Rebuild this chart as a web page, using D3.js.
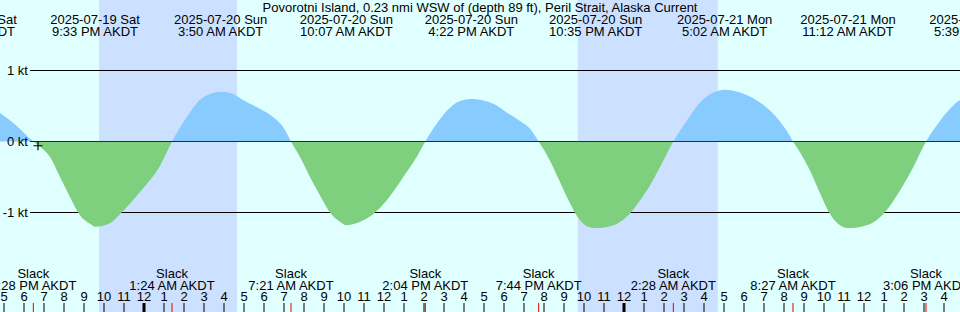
<!DOCTYPE html>
<html><head><meta charset="utf-8">
<script src="https://cdn.jsdelivr.net/npm/d3@7"></script>
<style>html,body{margin:0;padding:0;background:#e0ffff;overflow:hidden}svg{display:block}text{font-family:"Liberation Sans",Arial,sans-serif;font-size:13px;fill:#000}</style>
</head><body><svg id="c" width="960" height="312"></svg>
<script>
const title = "Povorotni Island, 0.23 nmi WSW of (depth 89 ft), Peril Strait, Alaska Current";
const viewStart = "2025-07-19T16:48", viewEnd = "2025-07-21T16:48";
const times = [
 "2025-07-19T15:24","2025-07-19T16:48","2025-07-19T17:38","2025-07-19T18:28","2025-07-19T18:48",
 "2025-07-19T19:18","2025-07-19T19:48","2025-07-19T20:18","2025-07-19T20:48","2025-07-19T21:18",
 "2025-07-19T21:33","2025-07-19T22:18","2025-07-19T22:53","2025-07-19T23:48","2025-07-20T00:48",
 "2025-07-20T01:24","2025-07-20T02:08","2025-07-20T02:46","2025-07-20T03:18","2025-07-20T03:50",
 "2025-07-20T04:28","2025-07-20T04:58","2025-07-20T05:48","2025-07-20T06:28","2025-07-20T06:58",
 "2025-07-20T07:21","2025-07-20T07:48","2025-07-20T08:18","2025-07-20T08:48","2025-07-20T09:18",
 "2025-07-20T09:48","2025-07-20T10:07","2025-07-20T10:58","2025-07-20T11:28","2025-07-20T12:08",
 "2025-07-20T12:58","2025-07-20T13:38","2025-07-20T14:04","2025-07-20T14:38","2025-07-20T15:08",
 "2025-07-20T15:48","2025-07-20T16:22","2025-07-20T17:28","2025-07-20T18:08","2025-07-20T18:48",
 "2025-07-20T19:18","2025-07-20T19:44","2025-07-20T20:18","2025-07-20T20:48","2025-07-20T21:18",
 "2025-07-20T21:48","2025-07-20T22:12","2025-07-20T22:35","2025-07-20T23:28","2025-07-21T00:08",
 "2025-07-21T00:48","2025-07-21T01:18","2025-07-21T01:48","2025-07-21T02:28","2025-07-21T03:08",
 "2025-07-21T03:48","2025-07-21T04:28","2025-07-21T05:02","2025-07-21T05:48","2025-07-21T06:38",
 "2025-07-21T07:28","2025-07-21T08:08","2025-07-21T08:27","2025-07-21T08:48","2025-07-21T09:18",
 "2025-07-21T09:48","2025-07-21T10:18","2025-07-21T10:48","2025-07-21T11:12","2025-07-21T12:08",
 "2025-07-21T12:58","2025-07-21T13:48","2025-07-21T14:28","2025-07-21T15:06","2025-07-21T15:48",
 "2025-07-21T16:18","2025-07-21T16:48","2025-07-21T17:39"];
const speeds = [
 0.60,0.40,0.22,0.00,-0.07,
 -0.22,-0.50,-0.78,-1.04,-1.16,
 -1.20,-1.15,-1.00,-0.71,-0.34,
 0.00,0.34,0.58,0.67,0.70,
 0.67,0.58,0.46,0.34,0.20,
 0.00,-0.22,-0.50,-0.76,-1.00,
 -1.13,-1.18,-1.11,-1.02,-0.83,
 -0.50,-0.22,0.00,0.25,0.43,
 0.57,0.60,0.53,0.41,0.29,
 0.18,0.00,-0.27,-0.57,-0.87,
 -1.11,-1.20,-1.22,-1.18,-1.06,
 -0.83,-0.62,-0.36,0.00,0.29,
 0.55,0.69,0.73,0.69,0.58,
 0.39,0.15,0.00,-0.15,-0.41,
 -0.73,-1.02,-1.18,-1.22,-1.18,
 -1.02,-0.69,-0.36,0.00,0.29,
 0.46,0.58,0.62];
const extremeTimes = ["2025-07-19T15:24","2025-07-19T21:33","2025-07-20T03:50","2025-07-20T10:07",
 "2025-07-20T16:22","2025-07-20T22:35","2025-07-21T05:02","2025-07-21T11:12","2025-07-21T17:39"];
const slackTimes = ["2025-07-19T18:28","2025-07-20T01:24","2025-07-20T07:21","2025-07-20T14:04",
 "2025-07-20T19:44","2025-07-21T02:28","2025-07-21T08:27","2025-07-21T15:06"];
const nightStarts = ["2025-07-19T21:45","2025-07-20T21:41"];
const nightEnds = ["2025-07-20T04:39","2025-07-21T04:41"];
const yTicks = [1, 0, -1];
const yTickLabels = ["1 kt", "0 kt", "-1 kt"];
const markTime = "2025-07-19T18:42", markValue = -0.06;

const W = 960, H = 312;
const parse = d3.utcParse("%Y-%m-%dT%H:%M");
const fmtDate = d3.utcFormat("%Y-%m-%d %a");
const fmtTime = d3.utcFormat("%-I:%M %p AKDT");
const svg = d3.select("#c");

const x = d3.scaleUtc().domain([parse(viewStart), parse(viewEnd)]).range([0, W]);
const y = d3.scaleLinear().domain([-1, 1]).range([212.5, 70.5]);
const data = times.map((t, i) => ({t: parse(t), v: speeds[i]}));

svg.append("rect").attr("width", W).attr("height", H).attr("fill", "#e0ffff");
svg.selectAll("rect.night").data(nightStarts.map((s, i) => [parse(s), parse(nightEnds[i])]))
  .join("rect").attr("class", "night")
  .attr("x", d => x(d[0])).attr("width", d => x(d[1]) - x(d[0]))
  .attr("y", 0).attr("height", H).attr("fill", "#cce0ff");

const defs = svg.append("defs");
defs.append("clipPath").attr("id", "pos").append("rect")
  .attr("x", 0).attr("y", 0).attr("width", W).attr("height", y(0));
defs.append("clipPath").attr("id", "neg").append("rect")
  .attr("x", 0).attr("y", y(0)).attr("width", W).attr("height", H - y(0));

const area = d3.area().x(d => x(d.t)).y0(y(0)).y1(d => y(d.v)).curve(d3.curveMonotoneX);
svg.append("path").datum(data).attr("d", area).attr("fill", "#87cbff").attr("clip-path", "url(#pos)");

svg.selectAll("line.grid").data(yTicks).join("line").attr("class", "grid")
  .attr("x1", 30).attr("x2", W).attr("y1", d => y(d)).attr("y2", d => y(d))
  .attr("stroke", "#000").attr("stroke-width", 1);

svg.append("path").datum(data).attr("d", area).attr("fill", "#7ecf7e").attr("clip-path", "url(#neg)");

svg.selectAll("text.ylab").data(yTicks).join("text").attr("class", "ylab")
  .attr("x", 28).attr("y", d => y(d) + 4.5).attr("text-anchor", "end")
  .text((d, i) => yTickLabels[i]);

// marker cross
const mx = x(parse(markTime)), my = y(markValue);
svg.append("path").attr("d", `M${mx - 4.5},${my}h9M${mx},${my - 4.5}v9`)
  .attr("stroke", "#000").attr("stroke-width", 1.2).attr("fill", "none");

// title & extremes
svg.append("text").attr("x", W / 2).attr("y", 12).attr("text-anchor", "middle").text(title);
const ex = svg.selectAll("g.ex").data(extremeTimes.map(parse)).join("g").attr("class", "ex");
ex.append("text").attr("x", d => x(d)).attr("y", 24).attr("text-anchor", "middle").text(d => fmtDate(d));
ex.append("text").attr("x", d => x(d)).attr("y", 36).attr("text-anchor", "middle").text(d => fmtTime(d));

// slacks
const sl = svg.selectAll("g.sl").data(slackTimes.map(parse)).join("g").attr("class", "sl");
sl.append("text").attr("x", d => x(d)).attr("y", 278).attr("text-anchor", "middle").text("Slack");
sl.append("text").attr("x", d => x(d)).attr("y", 290).attr("text-anchor", "middle").text(d => fmtTime(d));

// hour axis
const hours = d3.utcHour.range(parse(viewStart), parse(viewEnd));
svg.selectAll("text.hr").data(hours).join("text").attr("class", "hr")
  .attr("x", d => x(d)).attr("y", 301).attr("text-anchor", "middle")
  .text(d => +d3.utcFormat("%I")(d));
svg.selectAll("line.hr").data(hours).join("line").attr("class", "hr")
  .attr("x1", d => x(d)).attr("x2", d => x(d)).attr("y1", 303).attr("y2", H)
  .attr("stroke", "#000").attr("stroke-width", d => d.getUTCHours() === 0 ? 3 : 1);
svg.selectAll("line.sk").data(slackTimes.map(parse)).join("line").attr("class", "sk")
  .attr("x1", d => x(d)).attr("x2", d => x(d)).attr("y1", 303).attr("y2", H)
  .attr("stroke", "#e00000").attr("stroke-width", 1);
</script></body></html>
